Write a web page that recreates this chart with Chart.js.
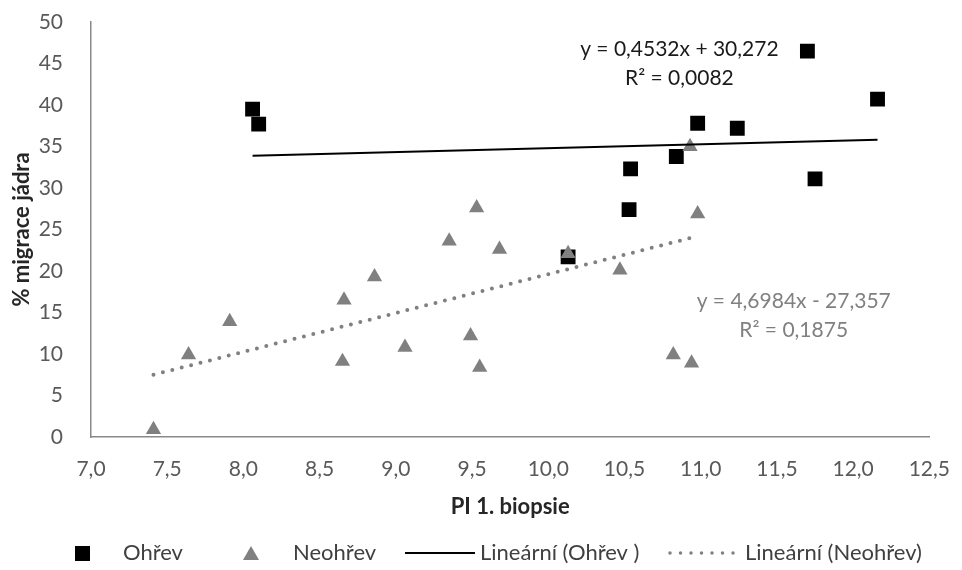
<!DOCTYPE html>
<html>
<head>
<meta charset="utf-8">
<script src="https://cdn.jsdelivr.net/npm/chart.js@4.4.0/dist/chart.umd.min.js"></script>
<style>
  html, body { margin: 0; padding: 0; background: #fff; }
  #wrap { width: 962px; height: 570px; position: relative; }
</style>
</head>
<body>
<div id="wrap"><canvas id="graf"></canvas></div>
<script>
// data
var ohrevX = [8.06, 8.10, 10.13, 10.53, 10.54, 10.84, 10.98, 11.24, 11.70, 11.75, 12.16];
var ohrevY = [39.5, 37.7, 21.7, 27.4, 32.3, 33.8, 37.8, 37.2, 46.5, 31.1, 40.7];
var neohrevX = [7.41, 7.64, 7.91, 8.65, 8.66, 8.86, 9.06, 9.35, 9.49, 9.53, 9.55, 9.68, 10.13, 10.47, 10.82, 10.93, 10.94, 10.98];
var neohrevY = [0.9, 9.9, 13.9, 9.1, 16.5, 19.3, 10.8, 23.6, 12.2, 27.6, 8.4, 22.6, 22.1, 20.1, 9.9, 35.0, 8.9, 26.9];
// koncove body trendu
var trendOhrevX = [8.06, 12.16];
var trendOhrevY = [33.9, 35.8];
var trendNeohrevX = [7.41, 10.98];
var trendNeohrevY = [7.5, 24.2];
var labels = ['Ohřev', 'Neohřev', 'Lineární (Ohřev )', 'Lineární (Neohřev)'];
var rovnice1 = ['y = 0,4532x + 30,272', 'R² = 0,0082'];
var rovnice2 = ['y = 4,6984x - 27,357', 'R² = 0,1875'];

function body(xs, ys) {
  return xs.map(function (x, i) { return { x: x, y: ys[i] }; });
}

var FONT = 'Lato, "Open Sans", sans-serif';

var popisky = {
  id: 'popisky',
  afterDatasetsDraw: function (chart) {
    var ctx = chart.ctx, sx = chart.scales.x, sy = chart.scales.y;
    ctx.save();
    ctx.font = '21px ' + FONT;
    ctx.textAlign = 'center';
    ctx.textBaseline = 'middle';
    ctx.fillStyle = '#1a1a1a';
    var x1 = sx.getPixelForValue(10.86), y1 = sy.getPixelForValue(46.7);
    ctx.fillText(rovnice1[0], x1, y1);
    ctx.fillText(rovnice1[1], x1, y1 + 29);
    ctx.fillStyle = '#808080';
    var x2 = sx.getPixelForValue(11.61), y2 = sy.getPixelForValue(16.3);
    ctx.fillText(rovnice2[0], x2, y2);
    ctx.fillText(rovnice2[1], x2, y2 + 29);
    ctx.restore();
  },
  afterDraw: function (chart) {
    // legenda
    var ctx = chart.ctx, ly = 553;
    ctx.save();
    ctx.font = '22px ' + FONT;
    ctx.textBaseline = 'middle';
    ctx.textAlign = 'left';
    ctx.fillStyle = '#000';
    ctx.fillRect(75, ly - 7, 15, 15);
    ctx.fillStyle = '#808080';
    ctx.beginPath();
    ctx.moveTo(251, ly - 7); ctx.lineTo(259, ly + 7); ctx.lineTo(243, ly + 7); ctx.closePath();
    ctx.fill();
    ctx.strokeStyle = '#000';
    ctx.lineWidth = 2;
    ctx.beginPath(); ctx.moveTo(405, ly); ctx.lineTo(475, ly); ctx.stroke();
    ctx.strokeStyle = '#808080';
    ctx.lineWidth = 3.5;
    ctx.lineCap = 'round';
    ctx.setLineDash([0, 10.5]);
    ctx.beginPath(); ctx.moveTo(670, ly); ctx.lineTo(734, ly); ctx.stroke();
    ctx.setLineDash([]);
    ctx.fillStyle = '#404040';
    ctx.fillText(labels[0], 123, ly);
    ctx.fillText(labels[1], 293, ly);
    ctx.fillText(labels[2], 480, ly);
    ctx.fillText(labels[3], 745, ly);
    ctx.restore();
  }
};

var ctx1 = document.getElementById('graf').getContext('2d');
var graf = new Chart(ctx1, {
  type: 'scatter',
  data: {
    datasets: [{
      label: labels[0],
      data: body(ohrevX, ohrevY),
      pointStyle: 'rect',
      pointRadius: 10.5,
      pointHoverRadius: 10.5,
      backgroundColor: '#000',
      borderColor: '#000',
      borderWidth: 0,
      order: 4
    }, {
      label: labels[1],
      data: body(neohrevX, neohrevY),
      pointStyle: 'triangle',
      pointRadius: 8.8,
      pointHoverRadius: 8.8,
      backgroundColor: '#808080',
      borderColor: '#808080',
      borderWidth: 0,
      order: 3
    }, {
      label: labels[2],
      type: 'line',
      data: body(trendOhrevX, trendOhrevY),
      borderColor: '#000',
      borderWidth: 2,
      pointRadius: 0,
      fill: false,
      order: 2
    }, {
      label: labels[3],
      type: 'line',
      data: body(trendNeohrevX, trendNeohrevY),
      borderColor: '#808080',
      borderWidth: 4,
      borderDash: [0, 9.7],
      borderCapStyle: 'round',
      pointRadius: 0,
      fill: false,
      order: 1
    }]
  },
  options: {
    responsive: true,
    maintainAspectRatio: false,
    animation: false,
    layout: { padding: { top: 22, right: 25, bottom: 50, left: 0 } },
    plugins: {
      legend: { display: false },
      tooltip: { enabled: false }
    },
    scales: {
      x: {
        type: 'linear',
        min: 7,
        max: 12.5,
        afterFit: function (s) { s.height = 83; },
        ticks: {
          stepSize: 0.5,
          color: '#595959',
          font: { family: FONT, size: 21 },
          padding: 12,
          callback: function (v) { return v.toFixed(1).replace('.', ','); }
        },
        grid: { display: false },
        border: { display: true, color: '#898989', width: 1.5 },
        title: {
          display: true,
          text: 'PI 1. biopsie',
          color: '#262626',
          font: { family: FONT, size: 22, weight: 'bold' },
          padding: { top: 0, bottom: 0 }
        }
      },
      y: {
        min: 0,
        max: 50,
        afterFit: function (s) { s.width = 91; s.paddingTop = 0; s.paddingBottom = 0; },
        ticks: {
          stepSize: 5,
          color: '#595959',
          font: { family: FONT, size: 21 },
          padding: 20
        },
        grid: { display: false },
        border: { display: true, color: '#898989', width: 1.5 },
        title: {
          display: true,
          text: '% migrace jádra',
          color: '#262626',
          font: { family: FONT, size: 22, weight: 'bold' },
          padding: { bottom: 0, top: 9 }
        }
      }
    }
  },
  plugins: [popisky]
});
</script>
</body>
</html>
